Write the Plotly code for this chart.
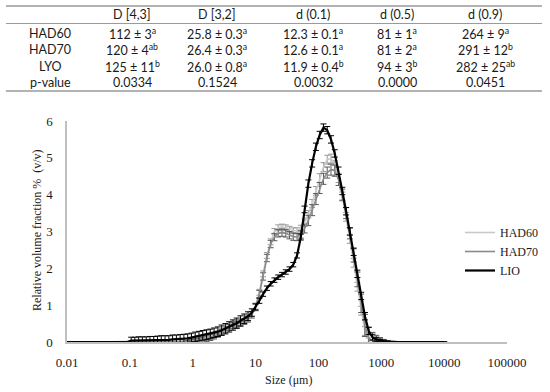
import plotly.graph_objects as go

# ---------------- data ----------------
sizes = [
    0.010, 0.011, 0.013, 0.015, 0.017, 0.020, 0.023, 0.026, 0.030, 0.035,
    0.040, 0.046, 0.052, 0.060, 0.069, 0.079, 0.091, 0.105, 0.120, 0.138,
    0.158, 0.182, 0.209, 0.240, 0.275, 0.316, 0.363, 0.417, 0.479, 0.550,
    0.631, 0.724, 0.832, 0.955, 1.096, 1.259, 1.445, 1.660, 1.905, 2.188,
    2.512, 2.884, 3.311, 3.802, 4.365, 5.012, 5.754, 6.607, 7.586, 8.710,
    10.000, 11.482, 13.183, 15.136, 17.378, 19.953, 22.909, 26.303, 30.200, 34.674,
    39.811, 45.709, 52.481, 60.256, 69.183, 79.433, 91.201, 104.713, 120.226, 138.038,
    158.489, 181.970, 208.930, 239.883, 275.423, 316.228, 363.078, 416.869, 478.630, 549.541,
    630.957, 724.436, 831.764, 954.993, 1096.478, 1258.925, 1445.440, 1659.587, 1905.461, 2187.762,
    2511.886, 2884.032, 3311.311, 3801.894, 4365.158, 5011.872, 5754.399, 6606.934, 7585.776, 8709.636,
    10000.000,
]

had60 = [
    0, 0, 0, 0, 0, 0, 0, 0, 0, 0,
    0, 0, 0, 0, 0, 0, 0, 0, 0, 0,
    0, 0, 0, 0, 0, 0, 0, 0, 0, 0,
    0, 0.01, 0.02, 0.03, 0.04, 0.06, 0.08, 0.11, 0.15, 0.19,
    0.24, 0.30, 0.36, 0.42, 0.47, 0.51, 0.55, 0.59, 0.65, 0.76,
    0.97, 1.35, 1.85, 2.35, 2.72, 3.00, 3.10, 3.12, 3.10, 3.06,
    3.02, 3.02, 3.08, 3.24, 3.47, 3.76, 4.10, 4.45, 4.75, 4.95,
    4.98, 4.80, 4.45, 3.95, 3.40, 2.80, 2.15, 1.50, 0.85, 0.30,
    0.05, 0.02, 0.01, 0.01, 0, 0, 0, 0, 0, 0,
    0, 0, 0, 0, 0, 0, 0, 0, 0, 0,
    0,
]
had60_err = [
    0, 0, 0, 0, 0, 0, 0, 0, 0, 0,
    0, 0, 0, 0, 0, 0, 0, 0, 0, 0,
    0, 0, 0, 0, 0, 0, 0, 0, 0, 0,
    0, 0.02, 0.02, 0.03, 0.03, 0.03, 0.04, 0.04, 0.04, 0.05,
    0.05, 0.05, 0.05, 0.05, 0.05, 0.05, 0.05, 0.05, 0.06, 0.07,
    0.08, 0.08, 0.08, 0.08, 0.08, 0.08, 0.08, 0.08, 0.08, 0.08,
    0.08, 0.08, 0.09, 0.10, 0.10, 0.11, 0.12, 0.12, 0.12, 0.12,
    0.12, 0.12, 0.12, 0.12, 0.12, 0.12, 0.12, 0.12, 0.12, 0.12,
    0.06, 0.04, 0.03, 0.02, 0.01, 0, 0, 0, 0, 0,
    0, 0, 0, 0, 0, 0, 0, 0, 0, 0,
    0,
]

had70 = [
    0, 0, 0, 0, 0, 0, 0, 0, 0, 0,
    0, 0, 0, 0, 0, 0, 0, 0, 0, 0,
    0, 0, 0, 0, 0, 0, 0, 0, 0, 0,
    0, 0, 0.01, 0.02, 0.03, 0.04, 0.06, 0.09, 0.12, 0.16,
    0.21, 0.27, 0.33, 0.39, 0.44, 0.48, 0.52, 0.56, 0.62, 0.74,
    0.95, 1.30, 1.78, 2.28, 2.66, 2.85, 2.95, 2.97, 2.95, 2.90,
    2.86, 2.85, 2.92, 3.08, 3.30, 3.58, 3.88, 4.18, 4.43, 4.60,
    4.68, 4.65, 4.40, 4.00, 3.50, 2.95, 2.35, 1.70, 1.05, 0.45,
    0.10, 0.04, 0.03, 0.02, 0.01, 0, 0, 0, 0, 0,
    0, 0, 0, 0, 0, 0, 0, 0, 0, 0,
    0,
]
had70_err = [
    0, 0, 0, 0, 0, 0, 0, 0, 0, 0,
    0, 0, 0, 0, 0, 0, 0, 0, 0, 0,
    0, 0, 0, 0, 0, 0, 0, 0, 0, 0,
    0, 0, 0.03, 0.05, 0.06, 0.07, 0.08, 0.08, 0.08, 0.08,
    0.08, 0.08, 0.08, 0.08, 0.08, 0.08, 0.08, 0.08, 0.08, 0.09,
    0.10, 0.10, 0.10, 0.10, 0.10, 0.10, 0.10, 0.10, 0.10, 0.10,
    0.10, 0.10, 0.10, 0.12, 0.14, 0.15, 0.15, 0.15, 0.15, 0.15,
    0.15, 0.15, 0.15, 0.15, 0.15, 0.15, 0.18, 0.20, 0.25, 0.30,
    0.30, 0.22, 0.15, 0.10, 0.06, 0.03, 0.02, 0, 0, 0,
    0, 0, 0, 0, 0, 0, 0, 0, 0, 0,
    0,
]

lio = [
    0, 0, 0, 0, 0, 0, 0, 0, 0, 0,
    0, 0, 0, 0, 0, 0, 0, 0.04, 0.04, 0.04,
    0.04, 0.04, 0.05, 0.05, 0.05, 0.06, 0.06, 0.06, 0.07, 0.07,
    0.08, 0.09, 0.10, 0.12, 0.14, 0.16, 0.18, 0.20, 0.22, 0.25,
    0.28, 0.32, 0.36, 0.41, 0.46, 0.51, 0.57, 0.63, 0.70, 0.80,
    0.95, 1.12, 1.30, 1.46, 1.58, 1.68, 1.76, 1.83, 1.90, 1.98,
    2.10, 2.35, 2.85, 3.60, 4.30, 4.85, 5.30, 5.62, 5.82, 5.75,
    5.50, 5.12, 4.65, 4.10, 3.55, 3.00, 2.45, 1.85, 1.25, 0.70,
    0.30, 0.13, 0.07, 0.04, 0.02, 0.01, 0, 0, 0, 0,
    0, 0, 0, 0, 0, 0, 0, 0, 0, 0,
    0,
]
lio_err = [
    0, 0, 0, 0, 0, 0, 0, 0, 0, 0,
    0, 0, 0, 0, 0, 0, 0, 0.09, 0.09, 0.10,
    0.10, 0.10, 0.10, 0.10, 0.11, 0.11, 0.11, 0.11, 0.12, 0.12,
    0.12, 0.12, 0.12, 0.12, 0.13, 0.13, 0.13, 0.13, 0.13, 0.13,
    0.13, 0.14, 0.14, 0.14, 0.14, 0.14, 0.14, 0.13, 0.12, 0.10,
    0.08, 0.07, 0.06, 0.06, 0.06, 0.06, 0.06, 0.06, 0.06, 0.06,
    0.06, 0.07, 0.08, 0.09, 0.10, 0.10, 0.10, 0.10, 0.10, 0.10,
    0.10, 0.10, 0.10, 0.10, 0.10, 0.10, 0.10, 0.10, 0.10, 0.10,
    0.10, 0.08, 0.06, 0.04, 0.03, 0.02, 0.01, 0, 0, 0,
    0, 0, 0, 0, 0, 0, 0, 0, 0, 0,
    0,
]

x_ticks = [0.01, 0.1, 1, 10, 100, 1000, 10000, 100000]
x_tick_labels = ["0.01", "0.1", "1", "10", "100", "1000", "10000", "100000"]
y_ticks = [0, 1, 2, 3, 4, 5, 6]

table_header = ["D [4,3]", "D [3,2]", "d (0.1)", "d (0.5)", "d (0.9)"]
table_rows = ["HAD60", "HAD70", "LYO", "p-value"]
table_values = [
    ["112 ± 3", "25.8 ± 0.3", "12.3 ± 0.1", "81 ± 1", "264 ± 9"],
    ["120 ± 4", "26.4 ± 0.3", "12.6 ± 0.1", "81 ± 2", "291 ± 12"],
    ["125 ± 11", "26.0 ± 0.8", "11.9 ± 0.4", "94 ± 3", "282 ± 25"],
    ["0.0334", "0.1524", "0.0032", "0.0000", "0.0451"],
]
table_letters = [
    ["a", "a", "a", "a", "a"],
    ["ab", "a", "a", "a", "b"],
    ["b", "a", "b", "b", "ab"],
    ["", "", "", "", ""],
]

# ---------------- layout helpers ----------------
W, H = 550, 392
L, R, T, B = 67, 43, 121, 50
PW, PH = W - L - R, H - T - B


def px2x(px):
    return (px - L) / PW


def py2y(py):
    return (H - B - py) / PH


SERIF = "Liberation Serif, Times New Roman, serif"
SANS = "Lato, Open Sans, sans-serif"
TXT = "#1a1a1a"

fig = go.Figure()

series = [
    ("HAD60", had60, had60_err, "#c9c9c9", "#9a9a9a", 1.6),
    ("HAD70", had70, had70_err, "#8a8a8a", "#5a5a5a", 1.6),
    ("LIO", lio, lio_err, "#000000", "#000000", 2.2),
]
for name, vals, errs, col, ecol, lw in series:
    fig.add_trace(go.Scatter(
        x=sizes, y=vals, name=name, mode="lines",
        line=dict(color=col, width=lw),
        error_y=dict(type="data", array=errs, visible=True,
                     color=ecol, thickness=1, width=3),
        cliponaxis=False, legendgroup=name,
    ))

annotations = []
shapes = []

# table lines
for yline, lw in [(6, 1.5), (23.5, 1.2), (91, 1.5)]:
    shapes.append(dict(type="line", xref="paper", yref="paper",
                       x0=px2x(6), x1=px2x(542), y0=py2y(yline), y1=py2y(yline),
                       line=dict(color="#9a9a9a", width=lw)))

col_centers = [132, 217, 313, 397, 485]
row_centers = [33, 49, 66, 83]
header_y = 15
TFS = 12.5

for cx, txt in zip(col_centers, table_header):
    annotations.append(dict(x=px2x(cx), y=py2y(header_y), xref="paper", yref="paper",
                            text=txt, showarrow=False, xanchor="center", yanchor="middle",
                            font=dict(family=SANS, size=TFS, color=TXT)))
for ry, rname, vrow, lrow in zip(row_centers, table_rows, table_values, table_letters):
    annotations.append(dict(x=px2x(50), y=py2y(ry), xref="paper", yref="paper",
                            text=rname, showarrow=False, xanchor="center", yanchor="middle",
                            font=dict(family=SANS, size=TFS, color=TXT)))
    for cx, v, lt in zip(col_centers, vrow, lrow):
        t = v + (f"<sup>{lt}</sup>" if lt else "")
        annotations.append(dict(x=px2x(cx), y=py2y(ry), xref="paper", yref="paper",
                                text=t, showarrow=False, xanchor="center", yanchor="middle",
                                font=dict(family=SANS, size=TFS, color=TXT)))

# axis titles
annotations.append(dict(x=px2x(37), y=py2y(230), xref="paper", yref="paper",
                        text="Relative volume fraction %  (v/v)", textangle=-90,
                        showarrow=False, xanchor="center", yanchor="middle",
                        font=dict(family=SERIF, size=12, color=TXT)))
annotations.append(dict(x=px2x(288), y=py2y(380), xref="paper", yref="paper",
                        text="Size (μm)", showarrow=False, xanchor="center", yanchor="middle",
                        font=dict(family=SERIF, size=12, color=TXT)))

fig.update_layout(
    width=W, height=H,
    margin=dict(l=L, r=R, t=T, b=B, autoexpand=False),
    paper_bgcolor="white", plot_bgcolor="white",
    showlegend=True,
    legend=dict(x=px2x(460), y=py2y(218), xanchor="left", yanchor="top",
                font=dict(family=SERIF, size=12, color=TXT),
                bgcolor="rgba(0,0,0,0)", itemwidth=30, tracegroupgap=5,
                traceorder="normal"),
    annotations=annotations,
    shapes=shapes,
    xaxis=dict(type="log", range=[-2, 5], tickvals=x_ticks, ticktext=x_tick_labels,
               showgrid=False, zeroline=False, showline=True, linecolor="#bfbfbf",
               linewidth=1.5, ticks="", ticklabelstandoff=8,
               tickfont=dict(family=SERIF, size=13, color=TXT)),
    yaxis=dict(range=[0, 6], tickvals=y_ticks, showgrid=False, zeroline=False,
               showline=True, linecolor="#bfbfbf", linewidth=1.5, ticks="",
               ticklabelstandoff=10,
               tickfont=dict(family=SERIF, size=13, color=TXT)),
)

fig.write_html("out.html", config={"displayModeBar": False},
               post_script="document.body.style.margin='0';document.body.style.padding='0';")
